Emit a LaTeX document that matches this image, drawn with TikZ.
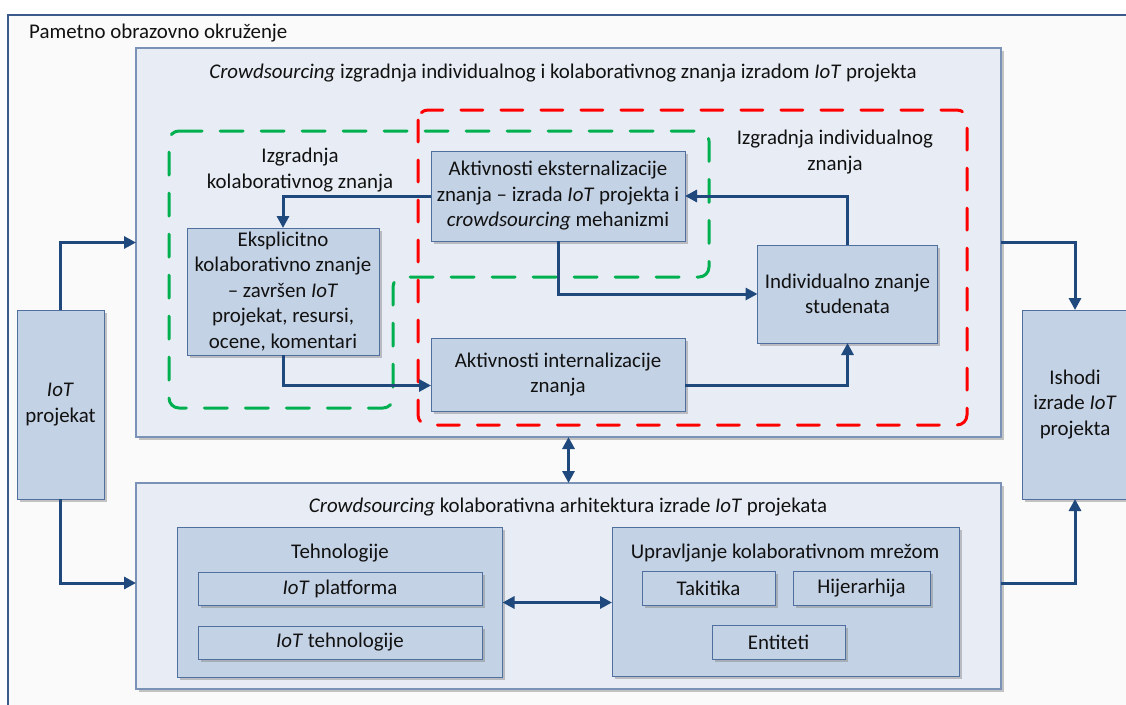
\documentclass[tikz,border=0pt]{standalone}
\usepackage{fontspec}
\setmainfont{Carlito}
\usetikzlibrary{arrows.meta,shadows}

\definecolor{framecol}{HTML}{3C5A8A}
\definecolor{framefill}{HTML}{FAFAFA}
\definecolor{contline}{HTML}{7A92B6}
\definecolor{contfill}{HTML}{E8EDF5}
\definecolor{boxline}{HTML}{4F6F9F}
\definecolor{boxfill}{HTML}{C4D2E5}
\definecolor{linkcol}{HTML}{1F497D}
\definecolor{greendash}{HTML}{00B050}
\definecolor{reddash}{HTML}{FF0000}
\definecolor{inktext}{HTML}{111111}

\begin{document}
\begin{tikzpicture}[x=1pt,y=-1pt,
  txt/.style={font=\fontsize{20.9}{25.5}\selectfont, text=inktext, align=center, inner sep=0pt},
  shade box/.style={drop shadow={shadow xshift=2.5pt, shadow yshift=-2.5pt, opacity=0.45, fill=gray}},
  cont/.style={draw=contline, line width=1.2pt, fill=contfill, inner sep=0pt, outer sep=0pt, shade box},
  blk/.style={txt, draw=boxline, line width=1pt, fill=boxfill, outer sep=0pt, shade box},
  conn/.style={draw=linkcol, line width=3pt, -{Triangle[length=12pt,width=12pt]}},
  dbl/.style={draw=linkcol, line width=3pt, {Triangle[length=12pt,width=12pt]}-{Triangle[length=12pt,width=12pt]}},
  gdash/.style={draw=greendash, line width=3pt, line cap=round, dash pattern=on 23pt off 18pt, rounded corners=10pt},
  rdash/.style={draw=reddash, line width=3pt, line cap=round, dash pattern=on 22pt off 18pt, rounded corners=10pt}]

\clip (0,0) rectangle (1126,704);
\fill[white] (0,0) rectangle (1126,704);

% smart learning environment frame
\draw[draw=framecol, line width=1.2pt, fill=framefill] (8,15) rectangle (1140,720);
\node[txt, anchor=west] (envlbl) at (29,33) {Pametno obrazovno okruženje};

% the two containers
\node[cont, minimum width=865, minimum height=389] (top) at (568.5,242.5) {};
\node[cont, minimum width=865, minimum height=206] (bot) at (568.5,586) {};
\node[txt] (toptitle) at (563,73) {\textit{Crowdsourcing} izgradnja individualnog i kolaborativnog znanja izradom \textit{IoT} projekta};
\node[txt] (bottitle) at (568,507) {\textit{Crowdsourcing} kolaborativna arhitektura izrade \textit{IoT} projekata};

% knowledge-building regions
\draw[gdash] (169,131) -- (709,131) -- (709,277) -- (393,277) -- (393,408) -- (169,408) -- cycle;
\draw[rdash] (418,110) rectangle (967,425);
\node[txt] (kolab) at (300,170) {Izgradnja\\kolaborativnog znanja};
\node[txt] (indiv) at (835,152) {Izgradnja individualnog\\znanja};

% side blocks
\node[blk, minimum width=87, minimum height=189] (iot) at (60.5,404.5) {\textit{IoT}\\projekat};
\node[blk, minimum width=106, minimum height=189] (ish) at (1075,404.5) {Ishodi\\izrade \textit{IoT}\\projekta};

% knowledge blocks
\node[blk, minimum width=254, minimum height=90] (ext) at (558,196) {Aktivnosti eksternalizacije\\znanja -- izrada \textit{IoT} projekta i\\\textit{crowdsourcing} mehanizmi};
\node[blk, minimum width=192, minimum height=127] (eks) at (283,291.5) {Eksplicitno\\kolaborativno znanje\\-- završen \textit{IoT}\\projekat, resursi,\\ocene, komentari};
\node[blk, minimum width=180, minimum height=98] (ind) at (847.5,294) {Individualno znanje\\studenata};
\node[blk, minimum width=254, minimum height=73] (int) at (558,374.5) {Aktivnosti internalizacije\\znanja};

% architecture blocks
\node[blk, minimum width=325, minimum height=150] (teh) at (340,602.5) {};
\node[txt] (tehlbl) at (340,553) {Tehnologije};
\node[blk, minimum width=284, minimum height=33] (plat) at (340,588.5) {\textit{IoT} platforma};
\node[blk, minimum width=284, minimum height=33] (tehn) at (340,642.5) {\textit{IoT} tehnologije};

\node[blk, minimum width=347, minimum height=149] (upr) at (785.5,601.5) {};
\node[txt] (uprlbl) at (785,553) {Upravljanje kolaborativnom mrežom};
\node[blk, minimum width=133, minimum height=34] (takt) at (708.5,588.5) {Takitika};
\node[blk, minimum width=137, minimum height=34] (hij) at (861.5,588) {Hijerarhija};
\node[blk, minimum width=133, minimum height=34] (ent) at (778.5,642.5) {Entiteti};

% connectors
\draw[conn] (iot.north) |- (top.west);
\draw[conn] (iot.south) |- ([yshift=3pt]bot.west);
\draw[conn] (top.east) -| (ish.north);
\draw[conn] ([yshift=3pt]bot.east) -| (ish.south);
\draw[dbl] (top.south) -- (bot.north);
\draw[dbl] (teh.east) -- (teh.east -| upr.west);

\draw[conn] (ext.west) -| (eks.north);
\draw[conn] (ind.north) |- (ext.east);
\draw[conn] (ext.south) |- (ind.west);
\draw[conn] (eks.south) |- ([yshift=-11pt]int.west);
\draw[conn] ([yshift=-11pt]int.east) -| (ind.south);
\end{tikzpicture}
\end{document}
